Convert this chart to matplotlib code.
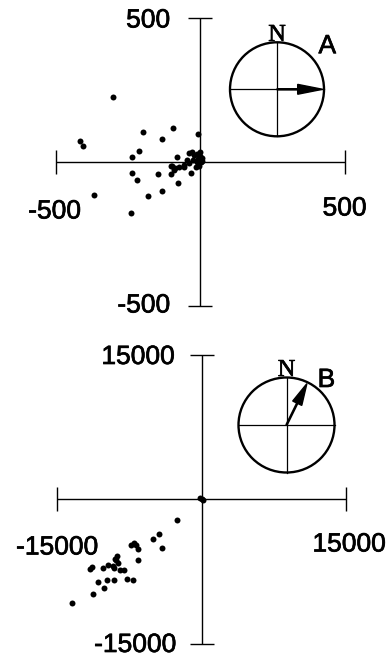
import matplotlib
matplotlib.use("Agg")
import matplotlib.pyplot as plt
import matplotlib.patheffects as pe
from matplotlib.patches import Ellipse, FancyArrow
import numpy as np

# ---- panel A: displacement scatter, range +/-500 ----
a_limit = 500
a_labels = ["500", "-500", "500", "-500"]          # top, left, right, bottom
a_x = [-303, -420, -409, -200, -96, -133, -10, -212, -237, -82,
       -237, -220, -146, -102, -79, -132, -181, -32, -370, -241,
       -98, -87, -75, -58, -56, -40, -46, -40, -29, -21,
       -12, -6, 0, -12, -25, -6, -17, 6, -2, 0,
       3, -3, 5, -8, 2, -102, -93]
a_y = [225, 74, 56, 105, 119, 79, 96, 39, 16, 18,
       -38, -61, -42, -42, -73, -101, -117, -39, -113, -178,
       -14, -22, -18, -18, -10, -5, 7, 32, 36, 24,
       28, 18, 7, 1, 7, -14, -18, 13, 36, 20,
       15, 10, 5, 12, 0, -13, -28]
a_bearing = 90      # degrees from north
a_name = "A"

# ---- panel B: displacement scatter, range +/-15000 ----
b_limit = 15000
b_labels = ["15000", "-15000", "15000", "-15000"]
b_x = [0, 180, -150, -2521, -5021, -4458, -4146, -7271, -7000, -6823, -6583, -6542,
       -8906, -8802, -9083, -8458, -8042, -9708, -10188, -11615, -11333, -7688,
       -7063, -9083, -9844, -10750, -10125, -11229, -13490, -8667, -9146, -9010]
b_y = [0, -60, 90, -2188, -4198, -3646, -5073, -4792, -4615, -4792, -5240, -6281,
       -6354, -5906, -7115, -7323, -7323, -6875, -7115, -7260, -7052, -8260,
       -8365, -8438, -8438, -8615, -9240, -9823, -10802, -6635, -6979, -6250]
b_bearing = 26
b_name = "B"

W, H, DPI = 392, 658, 100
SANS = "Liberation Sans"
SERIF = "Liberation Serif"
HEAVY = [pe.withStroke(linewidth=0.5, foreground="black")]
fig = plt.figure(figsize=(W / DPI, H / DPI), dpi=DPI)
fig.patch.set_facecolor("white")


def cross_panel(top_px, bottom_px, cx, cy, half, limit, xs, ys, labels, offsets):
    ax = fig.add_axes([0, 1 - bottom_px / H, 1, (bottom_px - top_px) / H])
    s = limit / half                       # data units per pixel
    ax.set_xlim(-cx * s, (W - cx) * s)
    ax.set_ylim((cy - bottom_px) * s, (cy - top_px) * s)
    ax.axis("off")
    kw = dict(color="black", lw=1.0, solid_capstyle="butt")
    cap = 12 * s
    ax.plot([-limit, limit], [0, 0], **kw)
    ax.plot([0, 0], [-limit, limit], **kw)
    for v in (-limit, limit):
        ax.plot([v, v], [-cap, cap], **kw)
        ax.plot([-cap, cap], [v, v], **kw)
    ax.plot(xs, ys, "o", color="black", ms=4.3, mec="none", zorder=3)

    anchors = [(0, limit), (-limit, 0), (limit, 0), (0, -limit)]
    has = ["right", "center", "center", "right"]
    for txt, xy, ha, off in zip(labels, anchors, has, offsets):
        ax.annotate(txt, xy=xy, xytext=off, textcoords="offset pixels",
                    ha=ha, va="center_baseline", fontsize=19, family=SANS,
                    path_effects=HEAVY)
    return ax


def compass(cx, cy, rx, ry, bearing, name, name_xy, head_len):
    ax = fig.add_axes([(cx - rx) / W, 1 - (cy + ry) / H, 2 * rx / W, 2 * ry / H])
    ax.set_xlim(-1, 1)
    ax.set_ylim(-1, 1)
    ax.axis("off")
    ax.add_patch(Ellipse((0, 0), 2, 2, fill=False, lw=1.7, ec="black", clip_on=False))
    ax.plot([-1, 1], [0, 0], color="black", lw=0.9, clip_on=False)
    ax.plot([0, 0], [-1, 1], color="black", lw=0.9, clip_on=False)
    th = np.deg2rad(bearing)
    length = 0.97
    ax.add_patch(FancyArrow(0, 0, length * np.sin(th), length * np.cos(th),
                            width=0.025, head_width=0.21, head_length=head_len,
                            length_includes_head=True, color="black", clip_on=False))
    ax.text(0, 1.2, "N", ha="center", va="center_baseline", fontsize=17.5,
            family=SERIF, path_effects=HEAVY)
    ax.text(name_xy[0], name_xy[1], name, ha="center", va="center_baseline",
            fontsize=19, family=SANS, path_effects=HEAVY)


cross_panel(0, 329, 200.5, 162, 144, a_limit, a_x, a_y, a_labels,
            [(-30.5, 0), (-2, -47), (0, -44), (-30.5, 3)])
cross_panel(329, 658, 201.5, 499, 144.5, b_limit, b_x, b_y, b_labels,
            [(-27, 0), (0, -46), (3, -43), (-25.5, 1)])

compass(277, 89.3, 47, 47, a_bearing, a_name, (1.07, 0.97), 0.53)
compass(286.5, 425, 48, 47.5, b_bearing, b_name, (0.83, 1.0), 0.46)

fig.savefig("out.png", dpi=DPI, facecolor="white")
